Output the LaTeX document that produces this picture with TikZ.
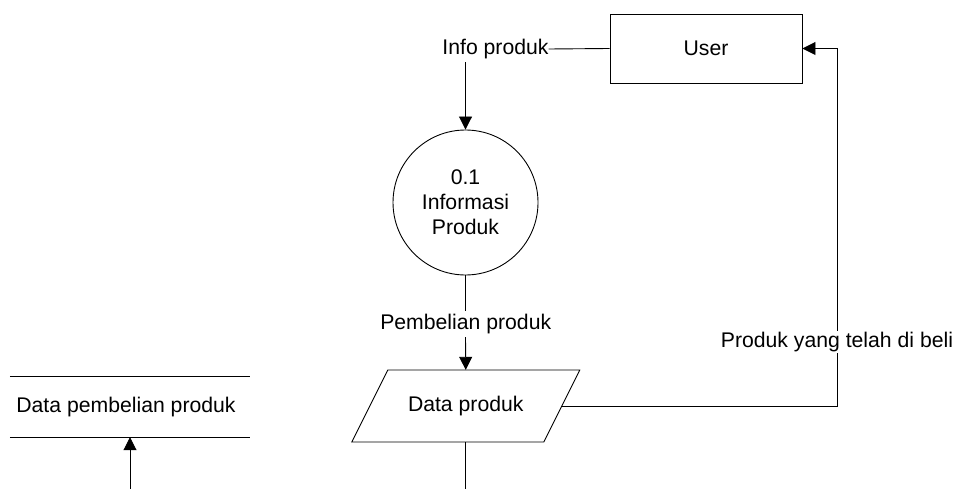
\documentclass[tikz,border=0pt]{standalone}
\usepackage{fontspec}
\setmainfont{Liberation Sans}
\usetikzlibrary{arrows.meta,calc}
\begin{document}
\begin{tikzpicture}[x=1pt,y=-1pt,
  every node/.style={font=\fontsize{21.2}{25}\selectfont, inner sep=0pt},
  line/.style={draw=black, line width=0.9pt},
  flow/.style={line, -{Triangle[length=13pt,width=13pt]}},
  lbl/.style={fill=white, inner xsep=0pt, inner ysep=3pt},
]
\useasboundingbox (0,0) rectangle (960,489);

% entity
\node[draw, line width=0.9pt, minimum width=192pt, minimum height=69pt] (user) at (706,48.5) {User};
% process
\node[draw, circle, line width=0.9pt, minimum size=145pt, align=center] (p1) at (465.5,202.5) {0.1\\Informasi\\Produk};
% data (parallelogram)
\node[minimum width=192pt, minimum height=72pt] (dp) at (465.75,406) {Data produk};
\draw[line] ($(dp.center)+(-78,-36)$) -- ($(dp.center)+(114,-36)$) -- ($(dp.center)+(78,36)$) -- ($(dp.center)+(-114,36)$) -- cycle;
% data store
\node[minimum width=240pt, minimum height=60pt] (ds) at (130,407) {};
\node (dstxt) at (126,407) {Data pembelian produk};
\draw[line] (ds.north west) -- (ds.north east);
\draw[line] (ds.south west) -- (ds.south east);

% labels
\node[lbl] (info) at (495.5,49) {Info produk};
\node[lbl] (pemb) at (465.75,324) {Pembelian produk};

% coordinates
\coordinate (rt) at (837.5,48.5);
\coordinate (bot) at (465.75,489);
\coordinate (dsin) at (130,489);

% connectors
\draw[line] (user.west) -- (info.east);
\draw[flow] (info.south -| p1.north) -- (p1.north);
\draw[line] (p1.south) -- (p1.south |- pemb.north);
\draw[flow] (p1.south |- pemb.south) -- (dp.north);
\draw[flow] (dp.east) -| (rt) -- (user.east);
\node[fill=white, inner sep=1pt] (ret) at (837,342) {Produk yang telah di beli};
\draw[line] (dp.south) -- (bot);
\draw[flow] (dsin) -- (ds.south);
\end{tikzpicture}
\end{document}
